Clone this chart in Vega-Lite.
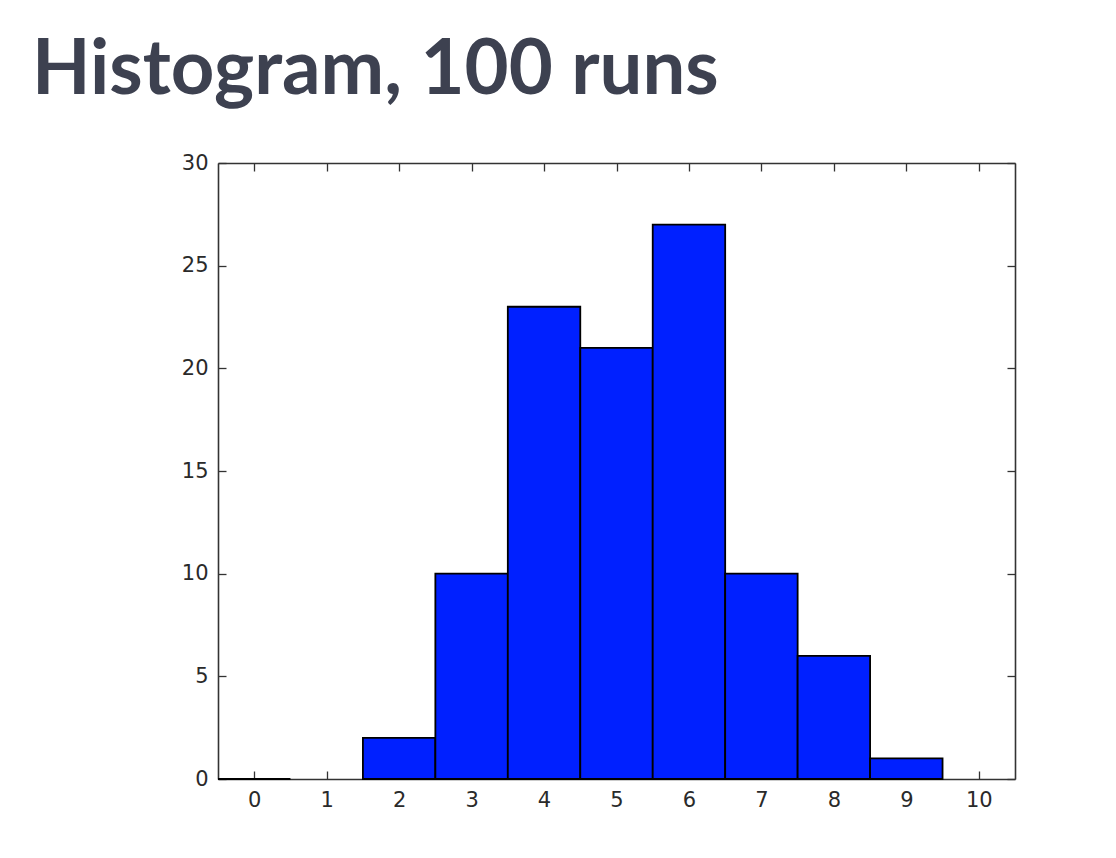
{
  "$schema": "https://vega.github.io/schema/vega-lite/v6.json",
  "width": 797,
  "height": 616,
  "autosize": {"type": "none"},
  "padding": {"left": 218, "top": 163, "right": 101, "bottom": 79},
  "background": "white",
  "title": {
    "text": "Histogram, 100 runs",
    "anchor": "start",
    "frame": "group",
    "font": "Lato",
    "fontSize": 76,
    "fontWeight": "bold",
    "color": "#3d4150",
    "dx": -186,
    "baseline": "alphabetic",
    "offset": -18
  },
  "config": {
    "view": {"stroke": null},
    "axis": {
      "grid": false,
      "title": null,
      "domainColor": "#333333",
      "domainWidth": 1.6,
      "tickColor": "#333333",
      "tickWidth": 1.3,
      "tickSize": -8,
      "labelFont": "DejaVu Sans",
      "labelFontSize": 21,
      "labelColor": "#2a2a2a",
      "labelPadding": 18
    }
  },
  "data": {
    "values": [
      {"bin_start": -0.5, "bin_end": 0.5, "count": 0},
      {"bin_start": 1.5, "bin_end": 2.5, "count": 2},
      {"bin_start": 2.5, "bin_end": 3.5, "count": 10},
      {"bin_start": 3.5, "bin_end": 4.5, "count": 23},
      {"bin_start": 4.5, "bin_end": 5.5, "count": 21},
      {"bin_start": 5.5, "bin_end": 6.5, "count": 27},
      {"bin_start": 6.5, "bin_end": 7.5, "count": 10},
      {"bin_start": 7.5, "bin_end": 8.5, "count": 6},
      {"bin_start": 8.5, "bin_end": 9.5, "count": 1}
    ]
  },
  "layer": [
    {
      "mark": {"type": "bar", "fill": "#0020ff", "stroke": "#000000", "strokeWidth": 1.8},
      "encoding": {
        "x": {
          "field": "bin_start",
          "type": "quantitative",
          "scale": {"domain": [-0.5, 10.5], "nice": false, "zero": false},
          "axis": {"orient": "bottom", "values": [0, 1, 2, 3, 4, 5, 6, 7, 8, 9, 10]}
        },
        "x2": {"field": "bin_end"},
        "y": {
          "field": "count",
          "type": "quantitative",
          "scale": {"domain": [0, 30], "nice": false},
          "axis": {"orient": "left", "values": [0, 5, 10, 15, 20, 25, 30]}
        },
        "y2": {"datum": 0}
      }
    },
    {
      "mark": {"type": "point", "opacity": 0},
      "encoding": {
        "x": {
          "field": "bin_start",
          "type": "quantitative",
          "scale": {"domain": [-0.5, 10.5], "nice": false, "zero": false},
          "axis": {"orient": "top", "values": [0, 1, 2, 3, 4, 5, 6, 7, 8, 9, 10], "labels": false}
        },
        "y": {
          "field": "count",
          "type": "quantitative",
          "scale": {"domain": [0, 30], "nice": false},
          "axis": {"orient": "right", "values": [0, 5, 10, 15, 20, 25, 30], "labels": false}
        }
      }
    }
  ],
  "resolve": {
    "scale": {"x": "independent", "y": "independent"},
    "axis": {"x": "independent", "y": "independent"}
  }
}
